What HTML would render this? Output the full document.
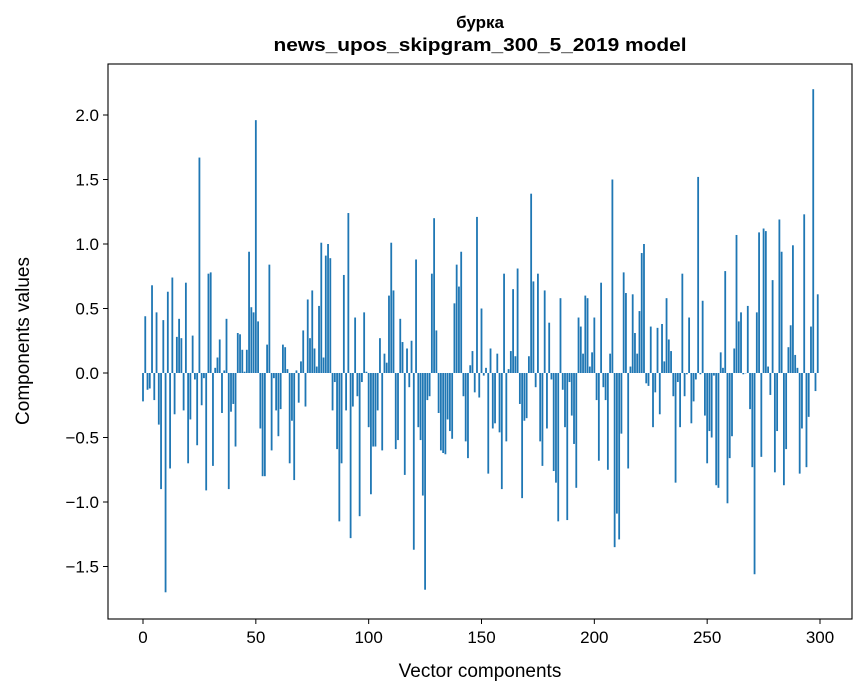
<!DOCTYPE html>
<html><head><meta charset="utf-8">
<style>
html,body{margin:0;padding:0;background:#fff;}
svg{display:block;font-family:"Liberation Sans","DejaVu Sans",sans-serif;}
</style></head>
<body>
<svg id="chart" width="867" height="696" viewBox="0 0 867 696" xmlns="http://www.w3.org/2000/svg">
<rect x="0" y="0" width="867" height="696" fill="#fff"/>
<text x="480" y="28" text-anchor="middle" font-size="17" font-weight="bold">бурка</text>
<text x="480" y="51" text-anchor="middle" font-size="18" font-weight="bold" textLength="413" lengthAdjust="spacingAndGlyphs">news_upos_skipgram_300_5_2019 model</text>
<g id="bars"></g>
<g id="axes"></g>
<text x="480" y="677" text-anchor="middle" font-size="19">Vector components</text>
<text transform="translate(29,341) rotate(-90)" text-anchor="middle" font-size="19">Components values</text>
</svg>
<script>
const values = [
-0.22,0.44,-0.13,-0.12,0.68,-0.21,0.47,-0.40,-0.90,0.41,
-1.70,0.63,-0.74,0.74,-0.32,0.28,0.42,0.27,-0.29,0.70,
-0.70,-0.36,0.29,-0.05,-0.56,1.67,-0.25,-0.04,-0.91,0.77,
0.78,-0.72,0.04,0.12,0.26,-0.31,0.02,0.42,-0.90,-0.30,
-0.24,-0.57,0.31,0.30,0.18,0.01,0.18,0.94,0.51,0.47,
1.96,0.40,-0.43,-0.80,-0.80,0.22,0.84,-0.60,-0.04,-0.29,
-0.49,-0.28,0.22,0.20,0.03,-0.70,-0.37,-0.83,0.02,-0.23,
0.09,0.33,-0.26,0.57,0.27,0.64,0.19,0.05,0.52,1.01,
0.12,0.91,1.00,0.89,-0.29,-0.07,-0.59,-1.15,-0.70,0.76,
-0.29,1.24,-1.28,-0.26,0.43,-0.18,-1.11,-0.07,0.47,0.01,
-0.42,-0.94,-0.57,-0.57,-0.29,0.27,-0.60,0.15,0.08,0.60,
1.01,0.64,-0.59,-0.52,0.42,0.24,-0.79,0.19,-0.11,0.25,
-1.37,0.88,-0.42,-0.52,-0.95,-1.68,-0.21,-0.18,0.77,1.20,
0.33,-0.31,-0.60,-0.62,-0.63,-0.36,-0.45,-0.51,0.54,0.84,
0.67,0.94,-0.18,-0.53,-0.66,0.06,0.17,-0.15,1.21,-0.19,
0.50,-0.02,0.04,-0.78,0.19,-0.43,-0.39,0.15,-0.46,-0.90,
0.77,-0.53,0.03,0.17,0.65,0.13,0.81,-0.24,-0.97,-0.37,
-0.35,0.13,1.39,0.71,-0.11,0.77,-0.53,-0.72,0.64,-0.43,
0.39,-0.05,-0.76,-0.85,-1.15,0.58,-0.13,-0.42,-1.14,-0.07,
-0.33,-0.55,-0.89,0.43,0.36,0.15,0.60,0.58,0.05,0.16,
0.43,-0.21,-0.68,0.70,-0.11,-0.21,-0.75,0.15,1.50,-1.35,
-1.09,-1.29,-0.47,0.78,0.62,-0.74,0.05,0.61,0.31,0.15,
0.48,0.93,1.00,-0.08,-0.10,0.36,-0.42,-0.15,0.35,-0.32,
0.38,0.09,0.58,0.26,0.17,-0.18,-0.85,-0.07,-0.42,0.77,
-0.18,-0.01,0.43,-0.39,-0.22,-0.05,1.52,-0.01,0.56,-0.33,
-0.70,-0.45,-0.50,-0.02,-0.87,-0.89,0.16,0.04,0.79,-1.01,
-0.66,-0.49,0.19,1.07,0.40,0.47,-0.01,0.00,0.52,-0.28,
-0.73,-1.56,0.47,1.09,-0.65,1.12,1.10,0.05,-0.17,0.72,
-0.77,-0.45,1.19,0.94,-0.87,-0.59,0.20,0.37,0.99,0.14,
0.04,-0.78,-0.43,1.23,-0.73,-0.34,0.36,2.20,-0.14,0.61
];
const xTicks = [0,50,100,150,200,250,300];
const yTicks = [-1.5,-1.0,-0.5,0.0,0.5,1.0,1.5,2.0];
const yTickLabels = ["\u22121.5","\u22121.0","\u22120.5","0.0","0.5","1.0","1.5","2.0"];

const NS = "http://www.w3.org/2000/svg";
const plot = {left:108, right:852, top:64, bottom:619};
const x0px = 143, x300px = 820;
function xScale(v){ return x0px + (x300px - x0px) * v / 300; }
const y0px = 373, yPerUnit = 129;
function yScale(v){ return y0px - yPerUnit * v; }
const barW = (x300px - x0px) / 300 * 0.8;

const bars = document.getElementById('bars');
values.forEach((v,i)=>{
  const r = document.createElementNS(NS,'rect');
  const cx = xScale(i);
  const yv = yScale(v), yz = yScale(0);
  r.setAttribute('x', cx - barW/2);
  r.setAttribute('y', Math.min(yv,yz));
  r.setAttribute('width', barW);
  r.setAttribute('height', Math.max(Math.abs(yz-yv),0.3));
  r.setAttribute('fill', '#1f77b4');
  
  
  bars.appendChild(r);
});

const axes = document.getElementById('axes');
const frame = document.createElementNS(NS,'rect');
frame.setAttribute('x', plot.left);
frame.setAttribute('y', plot.top);
frame.setAttribute('width', plot.right - plot.left);
frame.setAttribute('height', plot.bottom - plot.top);
frame.setAttribute('fill', 'none');
frame.setAttribute('stroke', '#000');
frame.setAttribute('stroke-width', '1.1');


axes.appendChild(frame);

xTicks.forEach(t=>{
  const x = xScale(t);
  const l = document.createElementNS(NS,'line');
  l.setAttribute('x1', x); l.setAttribute('x2', x);
  l.setAttribute('y1', plot.bottom); l.setAttribute('y2', plot.bottom + 5);
  l.setAttribute('stroke', '#000');
  
  
  axes.appendChild(l);
  const tx = document.createElementNS(NS,'text');
  tx.setAttribute('x', x); tx.setAttribute('y', plot.bottom + 24);
  tx.setAttribute('text-anchor', 'middle');
  tx.setAttribute('font-size', '17');
  tx.textContent = String(t);
  
  
  axes.appendChild(tx);
});
yTicks.forEach((t,i)=>{
  const y = yScale(t);
  const l = document.createElementNS(NS,'line');
  l.setAttribute('x1', plot.left - 5); l.setAttribute('x2', plot.left);
  l.setAttribute('y1', y); l.setAttribute('y2', y);
  l.setAttribute('stroke', '#000');
  
  
  axes.appendChild(l);
  const tx = document.createElementNS(NS,'text');
  tx.setAttribute('x', plot.left - 9); tx.setAttribute('y', y + 6);
  tx.setAttribute('text-anchor', 'end');
  tx.setAttribute('font-size', '17');
  tx.textContent = yTickLabels[i];
  
  
  axes.appendChild(tx);
});
</script>
</body></html>
